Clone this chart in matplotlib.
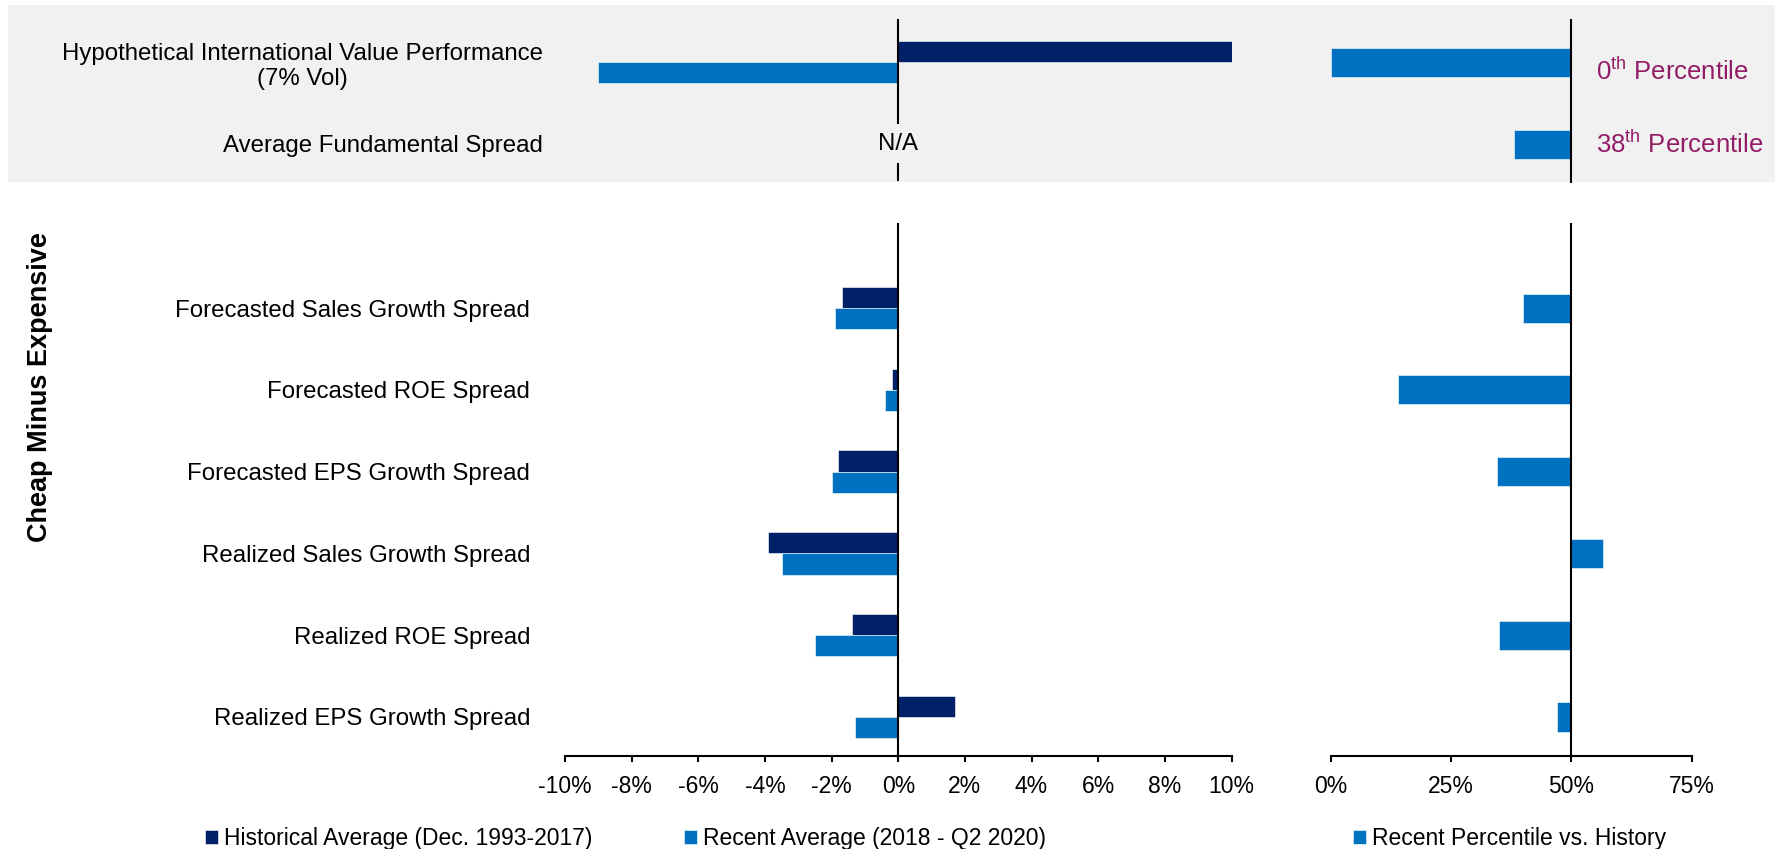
import numpy as np
import matplotlib
matplotlib.use("Agg")
import matplotlib.pyplot as plt
from matplotlib.patches import Rectangle

plt.rcParams['font.family'] = ['Liberation Sans', 'DejaVu Sans']
plt.rcParams['mathtext.fontset'] = 'custom'
plt.rcParams['mathtext.rm'] = 'Liberation Sans'

# Top (shaded) block
top_labels = ['Hypothetical International Value Performance\n(7% Vol)', 'Average Fundamental Spread']
top_hist = [10.15, np.nan]
top_recent = [-9.0, np.nan]
top_pctl = [0, 38]
top_pctl_text = [r'0$^{\mathrm{th}}$ Percentile', r'38$^{\mathrm{th}}$ Percentile']

# Cheap minus expensive block
labels = ['Forecasted Sales Growth Spread', 'Forecasted ROE Spread', 'Forecasted EPS Growth Spread',
          'Realized Sales Growth Spread', 'Realized ROE Spread', 'Realized EPS Growth Spread']
hist = [-1.7, -0.2, -1.8, -3.9, -1.4, 1.7]
recent = [-1.9, -0.4, -2.0, -3.5, -2.5, -1.3]
pctl = [40, 14, 34.5, 56.5, 35, 47]

left_ticks = np.arange(-10, 11, 2)
right_ticks = [0, 25, 50, 75]

navy = '#002169'
blue = '#0070C0'
band = '#F1F1F1'
maroon = '#931C66'
fs = 16.5
fs_lab = 17.3

W, H = 1775, 849
fig = plt.figure(figsize=(W / 100, H / 100), dpi=100)


def box(x0, y0, x1, y1):
    # pixel box -> figure fraction
    return [x0 / W, 1 - y1 / H, (x1 - x0) / W, (y1 - y0) / H]


fig.patches.append(Rectangle((8 / W, 1 - 182 / H), 1, 177 / H, transform=fig.transFigure,
                             facecolor=band, edgecolor='none', zorder=-5))

ax_tl = fig.add_axes(box(565, 19, 1231.5, 181))
ax_tr = fig.add_axes(box(1331, 19, 1691.5, 183))
ax_bl = fig.add_axes(box(565, 223, 1231.5, 756))
ax_br = fig.add_axes(box(1331, 223, 1691.5, 756))

for ax in [ax_tl, ax_tr, ax_bl, ax_br]:
    ax.set_facecolor('none')
    ax.set_zorder(2)
    for s in ['top', 'right', 'left']:
        ax.spines[s].set_visible(False)

h = 0.26
hp = 0.355

# top left
ty = np.arange(len(top_labels))[::-1]
ax_tl.barh(ty + h / 2, top_hist, height=h, color=navy, edgecolor='white', linewidth=0.4)
ax_tl.barh(ty - h / 2, top_recent, height=h, color=blue, edgecolor='white', linewidth=0.4)
ax_tl.axvline(0, color='black', lw=1.5, zorder=1)
ax_tl.text(0, ty[1], 'N/A', ha='center', va='center', fontsize=fs_lab, zorder=3,
           bbox=dict(facecolor=band, edgecolor='none', pad=6))
ax_tl.set_xlim(-10, 10)
ax_tl.set_ylim(-0.46, 1.53)
ax_tl.spines['bottom'].set_visible(False)
ax_tl.set_xticks([])
ax_tl.set_yticks(ty)
ax_tl.set_yticklabels(top_labels, fontsize=fs_lab)
ax_tl.tick_params(axis='y', length=0, pad=16)
for lbl in ax_tl.get_yticklabels():
    lbl.set_multialignment('center')

# top right
ax_tr.barh(ty, np.array(top_pctl) - 50, left=50, height=hp, color=blue, edgecolor='white', linewidth=0.4)
ax_tr.axvline(50, color='black', lw=1.5)
for y, t, dy in zip(ty, top_pctl_text, [-0.1, 0]):
    ax_tr.text(55.2, y + dy, t, ha='left', va='center', fontsize=18.5, color=maroon)
ax_tr.set_xlim(0, 75)
ax_tr.set_ylim(-0.47, 1.53)
ax_tr.spines['bottom'].set_visible(False)
ax_tr.set_xticks([])
ax_tr.set_yticks([])

# bottom left
by = np.arange(len(labels))[::-1]
b1 = ax_bl.barh(by + h / 2, hist, height=h, color=navy, edgecolor='white', linewidth=0.4,
                label='Historical Average (Dec. 1993-2017)')
b2 = ax_bl.barh(by - h / 2, recent, height=h, color=blue, edgecolor='white', linewidth=0.4,
                label='Recent Average (2018 - Q2 2020)')
ax_bl.axvline(0, color='black', lw=1.5)
ax_bl.set_xlim(-10, 10)
ax_bl.set_ylim(-0.477, 6.04)
ax_bl.set_xticks(left_ticks)
ax_bl.set_xticklabels([f'{v}%' for v in left_ticks], fontsize=fs)
ax_bl.set_yticks(by)
ax_bl.set_yticklabels(labels, fontsize=fs_lab)
ax_bl.tick_params(axis='y', length=0, pad=25)

# bottom right
b3 = ax_br.barh(by, np.array(pctl) - 50, left=50, height=hp, color=blue, edgecolor='white', linewidth=0.4,
                label='Recent Percentile vs. History')
ax_br.axvline(50, color='black', lw=1.5)
ax_br.set_xlim(0, 75)
ax_br.set_ylim(-0.477, 6.04)
ax_br.set_xticks(right_ticks)
ax_br.set_xticklabels([f'{v}%' for v in right_ticks], fontsize=fs)
ax_br.set_yticks([])

for ax in [ax_bl, ax_br]:
    ax.spines['bottom'].set_linewidth(1.5)
    ax.tick_params(axis='x', direction='out', length=4.5, width=1.5, pad=9)

fig.text(40 / W, 1 - 387 / H, 'Cheap Minus Expensive', rotation=90, ha='center', va='center',
         fontsize=19.5, fontweight='bold')

leg_kw = dict(loc='center left', frameon=False, fontsize=fs, handlelength=0.55, handleheight=0.55,
              handletextpad=0.3, borderpad=0, borderaxespad=0)
fig.legend(handles=[b1], bbox_to_anchor=(205 / W, 1 - 839 / H), **leg_kw)
fig.legend(handles=[b2], bbox_to_anchor=(684 / W, 1 - 839 / H), **leg_kw)
fig.legend(handles=[b3], bbox_to_anchor=(1353 / W, 1 - 839 / H), **leg_kw)

fig.savefig('out.png', dpi=100)
